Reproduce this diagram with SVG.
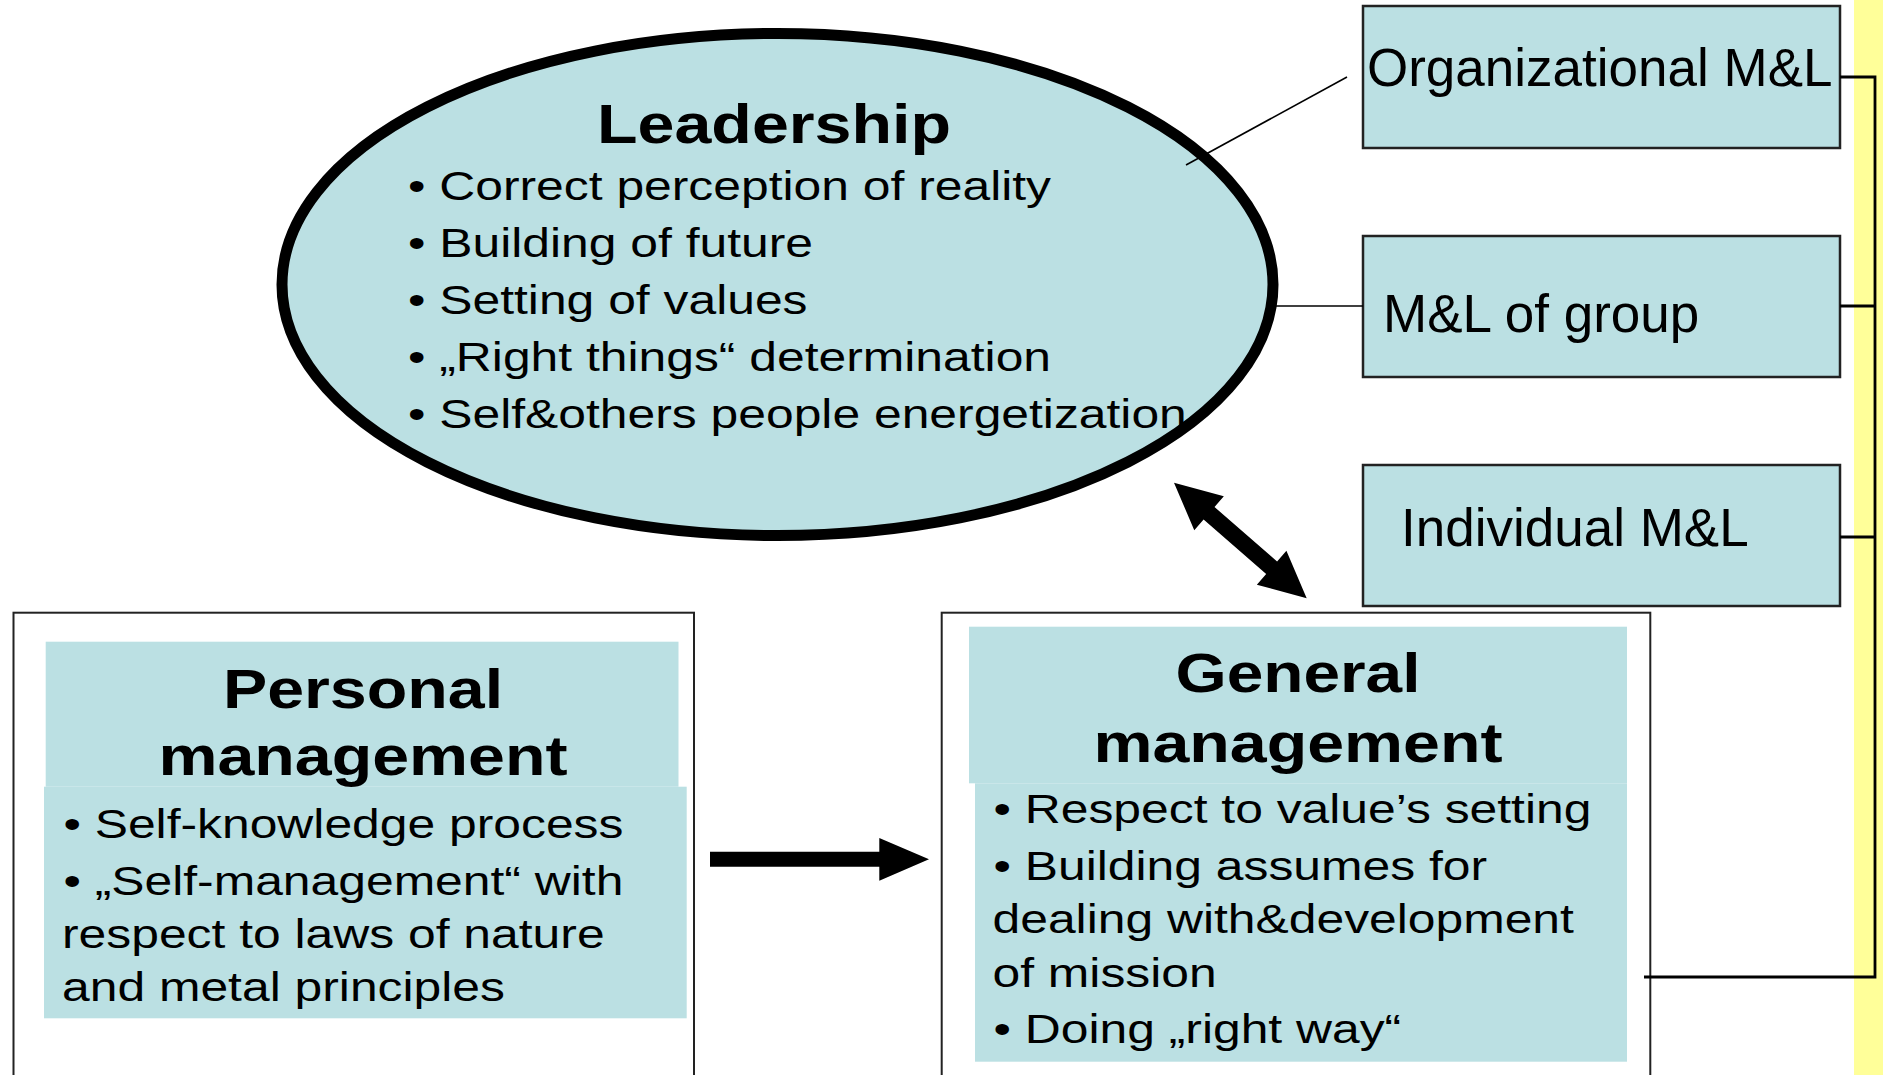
<svg xmlns="http://www.w3.org/2000/svg" width="1883" height="1075" viewBox="0 0 1883 1075">
<style>
.bg{fill:#ffffff}
.blue{fill:#BBE0E3}
.box{fill:#BBE0E3;stroke:#222222;stroke-width:2.5}
.frame{fill:#ffffff;stroke:#222222;stroke-width:2}
.thin{stroke:#000000;stroke-width:1.6;fill:none}
.bus{stroke:#000000;stroke-width:2.8;fill:none}
.t{font-family:"Liberation Sans",Arial,sans-serif;fill:#000000}
.title{font-size:56px;font-weight:bold;text-anchor:middle}
.item{font-size:41px}
.lab{font-size:53px}
</style>
<rect class="bg" x="0" y="0" width="1883" height="1075"/>
<rect id="yellow-band" x="1854" y="0" width="29" height="1075" fill="#FFFF99"/>

<g id="leadership">
  <ellipse cx="777.5" cy="284.5" rx="495.5" ry="251" fill="#BBE0E3" stroke="#000" stroke-width="11"/>
  <text class="t title" transform="translate(774,142.5) scale(1.185,1)">Leadership</text>
  <text class="t item" transform="translate(408,200) scale(1.215,1)">• Correct perception of reality</text>
  <text class="t item" transform="translate(408,257) scale(1.215,1)">• Building of future</text>
  <text class="t item" transform="translate(408,313.5) scale(1.215,1)">• Setting of values</text>
  <text class="t item" transform="translate(408,370.5) scale(1.215,1)">• „Right things“ determination</text>
  <text class="t item" transform="translate(408,428) scale(1.215,1)">• Self&amp;others people energetization</text>
</g>

<g id="org-ml">
  <rect class="box" x="1363" y="6" width="477" height="142"/>
  <text class="t lab" x="1367" y="86">Organizational M&amp;L</text>
</g>
<g id="group-ml">
  <rect class="box" x="1363" y="236" width="477" height="141"/>
  <text class="t lab" x="1383" y="332">M&amp;L of group</text>
</g>
<g id="individual-ml">
  <rect class="box" x="1363" y="465" width="477" height="141"/>
  <text class="t lab" x="1401" y="546">Individual M&amp;L</text>
</g>

<g id="personal-management">
  <rect class="frame" x="13.5" y="612.7" width="680.5" height="480"/>
  <rect class="blue" x="45.7" y="641.7" width="632.8" height="145"/>
  <rect class="blue" x="44" y="786.7" width="642.7" height="231.6"/>
  <text class="t title" transform="translate(363,708) scale(1.185,1)">Personal</text>
  <text class="t title" transform="translate(363,775) scale(1.185,1)">management</text>
  <text class="t item" transform="translate(63.4,838) scale(1.215,1)">• Self-knowledge process</text>
  <text class="t item" transform="translate(63.4,895) scale(1.215,1)">• „Self-management“ with</text>
  <text class="t item" transform="translate(62,947.5) scale(1.215,1)">respect to laws of nature</text>
  <text class="t item" transform="translate(62,1000.5) scale(1.215,1)">and metal principles</text>
</g>

<g id="general-management">
  <rect class="frame" x="941.7" y="612.7" width="708.6" height="480"/>
  <rect class="blue" x="969" y="626.7" width="658" height="156.6"/>
  <rect class="blue" x="975" y="783.3" width="652" height="278.4"/>
  <text class="t title" transform="translate(1298,692) scale(1.175,1)">General</text>
  <text class="t title" transform="translate(1298,762) scale(1.185,1)">management</text>
  <text class="t item" transform="translate(993.5,822.7) scale(1.215,1)">• Respect to value’s setting</text>
  <text class="t item" transform="translate(993.5,880) scale(1.215,1)">• Building assumes for</text>
  <text class="t item" transform="translate(992.5,933.3) scale(1.215,1)">dealing with&amp;development</text>
  <text class="t item" transform="translate(992.5,986.7) scale(1.215,1)">of mission</text>
  <text class="t item" transform="translate(993.5,1043.3) scale(1.215,1)">• Doing „right way“</text>
</g>

<g id="connectors">
  <line class="thin" x1="1186" y1="165" x2="1347" y2="77"/>
  <line class="thin" x1="1276" y1="306" x2="1363" y2="306"/>
  <polyline class="bus" points="1840,77 1875,77 1875,977 1644,977"/>
  <line class="bus" x1="1840" y1="306" x2="1875" y2="306"/>
  <line class="bus" x1="1840" y1="537" x2="1875" y2="537"/>
  <polygon id="arrow-right" fill="#000" points="710,851.7 879.3,851.7 879.3,838 929,859.3 879.3,880.7 879.3,866.7 710,866.7"/>
  <g id="arrow-double" transform="translate(1174,482.7) rotate(41.07)">
    <polygon fill="#000" points="0,0 46.5,-22.5 46.5,-8.3 129.5,-8.3 129.5,-22.5 176,0 129.5,22.5 129.5,8.3 46.5,8.3 46.5,22.5"/>
  </g>
</g>
</svg>
